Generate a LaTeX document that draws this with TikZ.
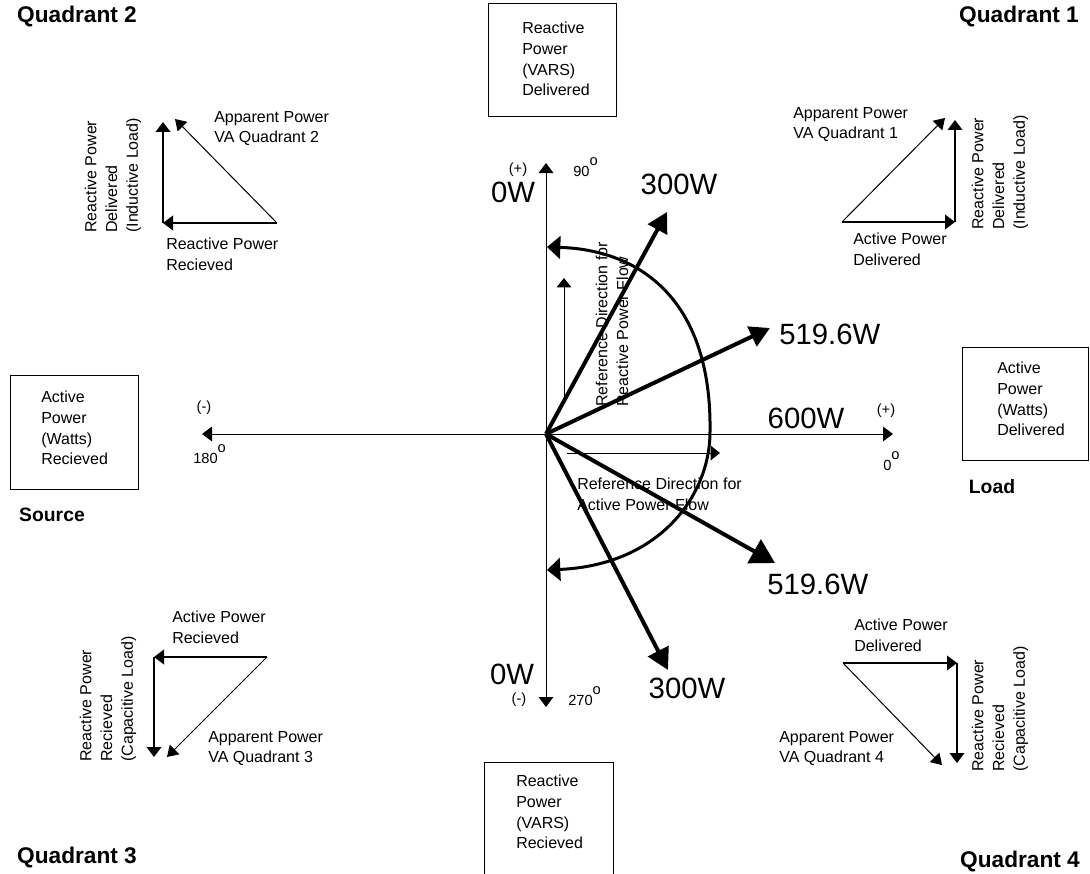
\documentclass[tikz,border=0pt]{standalone}
\usepackage{fontspec}
\setmainfont{Liberation Sans}
\usetikzlibrary{arrows.meta}
\newcommand\degsup{\raisebox{8pt}{o}}
\begin{document}
\begin{tikzpicture}[x=0.75pt,y=-0.75pt,
  lbl/.style={inner sep=0pt, align=left, font=\fontsize{12}{15.5}\selectfont, anchor=north west},
  vlbl/.style={inner sep=0pt, align=left, font=\fontsize{12}{15.5}\selectfont, rotate=90, anchor=west},
  small/.style={inner sep=0pt, font=\fontsize{11}{12}\selectfont},
  big/.style={inner sep=0pt, font=\fontsize{22}{24}\selectfont},
  head/.style={inner sep=0pt, font=\bfseries\fontsize{17}{19}\selectfont},
  side/.style={inner sep=0pt, font=\bfseries\fontsize{14.5}{16}\selectfont},
  frame/.style={draw, line width=0.75pt},
  axis/.style={line width=0.75pt, -{Triangle[length=7.5pt,width=11pt]}},
  refarrow/.style={line width=0.75pt, -{Triangle[length=7pt,width=11pt]}},
  vec/.style={line width=3pt, -{Triangle[length=15pt,width=16pt]}},
  sweep/.style={line width=2.25pt, {Triangle[length=10pt,width=17pt]}-{Triangle[length=10pt,width=17pt]}},
  side arrow/.style={line width=1.4pt, -{Triangle[length=7.5pt,width=11pt]}},
  hyp arrow/.style={line width=0.75pt, -{Triangle[length=8pt,width=10pt]}}]
\useasboundingbox (0,0) rectangle (1090,874);
\clip (0,0) rectangle (1090,874);

% ---------- boxes on the four axes ----------
\draw[frame] (488,4) rectangle (616,117);
\node[lbl] (topbox) at (522,22) {Reactive\\Power\\(VARS)\\Delivered};
\draw[frame] (484,762) rectangle (613,890);
\node[lbl] (botbox) at (516,775) {Reactive\\Power\\(VARS)\\Recieved};
\draw[frame] (10,375) rectangle (138,489);
\node[lbl] (leftbox) at (41,391) {Active\\Power\\(Watts)\\Recieved};
\draw[frame] (962,347) rectangle (1088,460);
\node[lbl] (rightbox) at (997,362) {Active\\Power\\(Watts)\\Delivered};

\node[side] (source) at (52,515) {Source};
\node[side] (load) at (992,487) {Load};

\node[head] (q2) at (77,17) {Quadrant 2};
\node[head] (q1) at (1019,17) {Quadrant 1};
\node[head] (q3) at (77,858) {Quadrant 3};
\node[head] (q4) at (1020,862) {Quadrant 4};

% ---------- axes ----------
\coordinate (O) at (546,434);
\coordinate (xr) at (893,434);
\coordinate (xl) at (202,434);
\coordinate (yt) at (546,163);
\coordinate (yb) at (546,707);
\draw[axis] (O) -- (xr);
\draw[axis] (O) -- (xl);
\draw[axis] (O) -- (yt);
\draw[axis] (O) -- (yb);

\node[small] (pt) at (518,170) {(+)};
\node[small,anchor=base west] (d90) at (573,176) {90\degsup};
\node[small] (pr) at (886,411) {(+)};
\node[small,anchor=base west] (d0) at (883,470) {0\degsup};
\node[small] (ml) at (204,408) {(-)};
\node[small,anchor=base west] (d180) at (193,463) {180\degsup};
\node[small] (mb) at (519,700) {(-)};
\node[small,anchor=base west] (d270) at (568,705) {270\degsup};

% ---------- reference directions ----------
\coordinate (rv0) at (564,397);
\coordinate (rv1) at (564,278);
\coordinate (rh0) at (567,453);
\coordinate (rh1) at (720,453);
\node[vlbl] (refq) at (612,407) {Reference Direction for\\Reactive Power Flow};
\node[lbl] (refp) at (577,478) {Reference Direction for\\Active Power Flow};
\draw[refarrow] (rv0) -- (rv1);
\draw[refarrow] (rh0) -- (rh1);

% ---------- power vectors ----------
\coordinate (v1) at (667,212);
\coordinate (v2) at (770,328);
\coordinate (v3) at (775,563);
\coordinate (v4) at (668,670);
\draw[vec] (O) -- (v1);
\draw[vec] (O) -- (v2);
\draw[vec,-{Triangle[length=18pt,width=20pt]}] (O) -- (v3);
\draw[vec,-{Triangle[length=16pt,width=17pt]}] (O) -- (v4);

% sweep of the phase angle
\coordinate (a1) at (547,247);
\coordinate (a2) at (710,432);
\coordinate (a3) at (547,570);
\draw[sweep] (a1) .. controls (645,250) and (712,305) .. (a2)
             .. controls (710,495) and (660,565) .. (a3);

\node[big] (w0t) at (513,192) {0W};
\node[big] (w300t) at (679,184) {300W};
\node[big,anchor=west] (w519t) at (779,334) {519.6W};
\node[big] (w600) at (806,418) {600W};
\node[big,anchor=west] (w519b) at (767,584) {519.6W};
\node[big] (w300b) at (687,688) {300W};
\node[big] (w0b) at (512,674) {0W};

% ---------- quadrant 2 ----------
\coordinate (q2c) at (163,223);
\coordinate (q2r) at (277,223);
\coordinate (q2v) at (163,122);
\coordinate (q2d) at (175,119);
\draw[side arrow] (q2r) -- (q2c);
\draw[side arrow] (q2c) -- (q2v);
\draw[hyp arrow] (q2r) -- (q2d);
\node[lbl] (q2app) at (214,111) {Apparent Power\\VA Quadrant 2};
\node[lbl] (q2h) at (166,238) {Reactive Power\\Recieved};
\node[vlbl] (q2vt) at (113,233) {Reactive Power\\Delivered\\(Inductive Load)};

% ---------- quadrant 1 ----------
\coordinate (q1c) at (955,222);
\coordinate (q1l) at (842,222);
\coordinate (q1v) at (955,120);
\coordinate (q1d) at (945,118);
\draw[side arrow] (q1l) -- (q1c);
\draw[side arrow] (q1c) -- (q1v);
\draw[hyp arrow] (q1l) -- (q1d);
\node[lbl] (q1app) at (793,107) {Apparent Power\\VA Quadrant 1};
\node[lbl] (q1h) at (853,233) {Active Power\\Delivered};
\node[vlbl] (q1vt) at (1000,230) {Reactive Power\\Delivered\\(Inductive Load)};

% ---------- quadrant 3 ----------
\coordinate (q3c) at (154,657);
\coordinate (q3r) at (267,657);
\coordinate (q3v) at (154,757);
\coordinate (q3d) at (167,757);
\draw[side arrow] (q3r) -- (q3c);
\draw[side arrow] (q3c) -- (q3v);
\draw[hyp arrow] (q3r) -- (q3d);
\node[lbl] (q3h) at (172,611) {Active Power\\Recieved};
\node[lbl] (q3app) at (208,731) {Apparent Power\\VA Quadrant 3};
\node[vlbl] (q3vt) at (108,762) {Reactive Power\\Recieved\\(Capacitive Load)};

% ---------- quadrant 4 ----------
\coordinate (q4c) at (957,663);
\coordinate (q4l) at (843,663);
\coordinate (q4v) at (957,763);
\coordinate (q4d) at (942,765);
\draw[side arrow] (q4l) -- (q4c);
\draw[side arrow] (q4c) -- (q4v);
\draw[hyp arrow] (q4l) -- (q4d);
\node[lbl] (q4h) at (854,619) {Active Power\\Delivered};
\node[lbl] (q4app) at (779,731) {Apparent Power\\VA Quadrant 4};
\node[vlbl] (q4vt) at (1000,772) {Reactive Power\\Recieved\\(Capacitive Load)};
\end{tikzpicture}
\end{document}
